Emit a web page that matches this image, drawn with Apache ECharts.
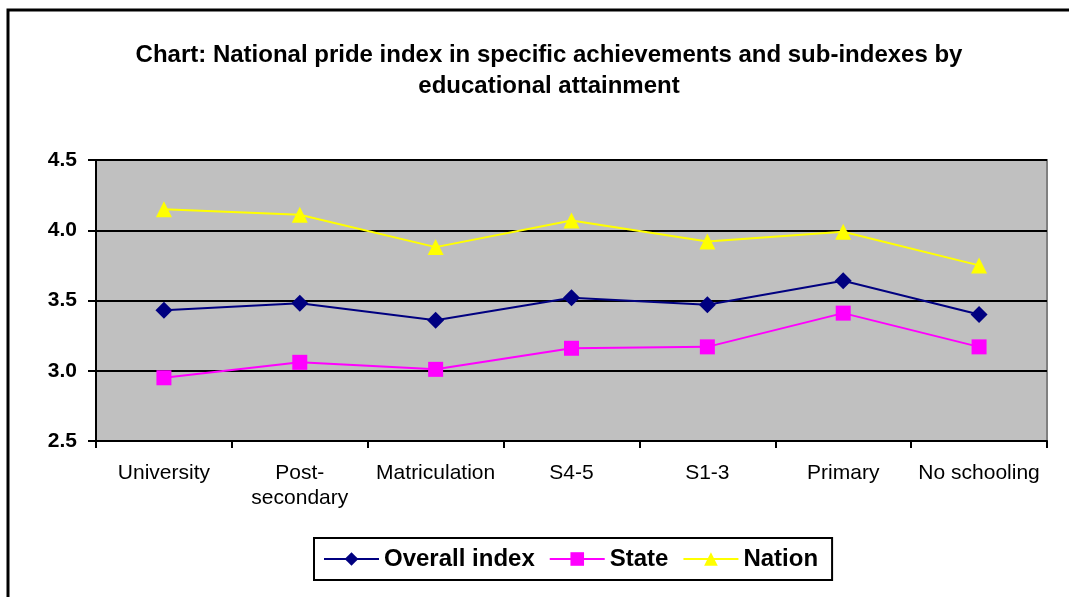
<!DOCTYPE html>
<html>
<head>
<meta charset="utf-8">
<script src="https://cdn.jsdelivr.net/npm/echarts@6/dist/echarts.min.js"></script>
<style>
html,body{margin:0;padding:0;background:#fff;}
#c{width:1069px;height:597px;}
</style>
</head>
<body>
<div id="c"></div>
<script>
const categories = ['University', 'Post-secondary', 'Matriculation', 'S4-5', 'S1-3', 'Primary', 'No schooling'];
const overallIndex = [3.43, 3.48, 3.36, 3.52, 3.47, 3.64, 3.40];
const stateIndex = [2.95, 3.06, 3.01, 3.16, 3.17, 3.41, 3.17];
const nationIndex = [4.15, 4.11, 3.88, 4.07, 3.92, 3.99, 3.75];
const yTicks = [2.5, 3.0, 3.5, 4.0, 4.5];

const chart = echarts.init(document.getElementById('c'));
const font = '"Liberation Sans", Arial, sans-serif';
chart.setOption({
  animation: false,
  backgroundColor: '#fff',
  textStyle: { fontFamily: font },
  title: {
    text: 'Chart: National pride index in specific achievements and sub-indexes by\neducational attainment',
    left: 544, top: 35, textAlign: 'center',
    textStyle: { fontFamily: font, fontSize: 24, fontWeight: 'bold', color: '#000', lineHeight: 31 }
  },
  graphic: [{
    type: 'rect', shape: { x: 8, y: 10, width: 1200, height: 700 },
    style: { fill: 'none', stroke: '#000', lineWidth: 3 }, silent: true, z: 100
  }],
  grid: {
    left: 96, right: 22, top: 160, bottom: 156, containLabel: false,
    show: true, backgroundColor: '#C0C0C0', borderColor: '#808080', borderWidth: 2
  },
  legend: {
    data: ['Overall index', 'State', 'Nation'],
    left: 314, top: 538, width: 580,
    borderColor: '#000', borderWidth: 2, padding: [9, 14, 9, 9],
    itemWidth: 55, itemHeight: 17, itemGap: 14,
    textStyle: { fontFamily: font, fontSize: 24, fontWeight: 'bold', color: '#000' }
  },
  xAxis: {
    type: 'category', data: categories, boundaryGap: true,
    axisLine: { lineStyle: { color: '#000', width: 2 } },
    axisTick: { show: true, length: 7, lineStyle: { color: '#000', width: 2 } },
    axisLabel: {
      color: '#000', fontSize: 21, fontFamily: font, margin: 20, lineHeight: 25, interval: 0,
      formatter: v => v.replace('Post-', 'Post-\n')
    },
    splitLine: { show: false }
  },
  yAxis: {
    type: 'value', min: yTicks[0], max: yTicks[yTicks.length - 1], interval: 0.5,
    axisLine: { show: true, lineStyle: { color: '#000', width: 2 } },
    axisTick: { show: true, length: 8, lineStyle: { color: '#000', width: 2 } },
    axisLabel: { color: '#000', fontSize: 21, fontWeight: 'bold', fontFamily: font, margin: 19,
      formatter: v => v.toFixed(1) },
    splitLine: { show: true, lineStyle: { color: '#000', width: 2 } }
  },
  series: [
    { name: 'Overall index', type: 'line', data: overallIndex, symbol: 'diamond', symbolSize: 17,
      lineStyle: { color: '#000080', width: 2 }, itemStyle: { color: '#000080' } },
    { name: 'State', type: 'line', data: stateIndex, symbol: 'rect', symbolSize: 15,
      lineStyle: { color: '#FF00FF', width: 2 }, itemStyle: { color: '#FF00FF' } },
    { name: 'Nation', type: 'line', data: nationIndex, symbol: 'triangle', symbolSize: 16,
      lineStyle: { color: '#FFFF00', width: 2 }, itemStyle: { color: '#FFFF00' } }
  ]
});
</script>
</body>
</html>
